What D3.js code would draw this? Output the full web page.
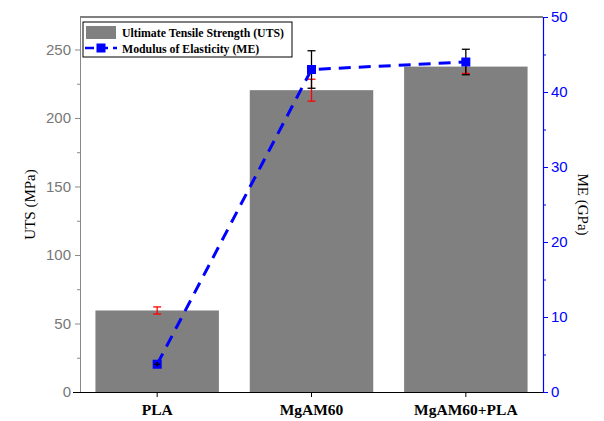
<!DOCTYPE html>
<html>
<head>
<meta charset="utf-8">
<script src="https://cdn.jsdelivr.net/npm/d3@7"></script>
<style>
  body { margin: 0; background: #fff; }
  svg text { font-family: "Liberation Sans", Arial, sans-serif; }
</style>
</head>
<body>
<div id="chart"></div>
<script>
// data
const categories = ["PLA", "MgAM60", "MgAM60+PLA"];
const utsValues = [59.5, 220.3, 237.5];
const utsErrors = [2.6, 8, 5];
const meValues = [3.7, 43.0, 44.0];
const meErrors = [0.3, 2.5, 1.7];
const utsTicks = [0, 50, 100, 150, 200, 250];
const meTicks = [0, 10, 20, 30, 40, 50];

const margin = { top: 17, right: 61, bottom: 29, left: 80 };
const width = 604 - margin.left - margin.right;
const height = 421 - margin.top - margin.bottom;
const serif = "'Liberation Serif', 'DejaVu Serif', serif";

const svg = d3.select("#chart").append("svg")
    .attr("width", 604)
    .attr("height", 421)
    .append("g")
    .attr("transform", `translate(${margin.left},${margin.top})`);

const x = d3.scaleBand().domain(categories).range([0, width]).paddingInner(0.2).paddingOuter(0.1);
const yL = d3.scaleLinear().domain([0, 273.7]).range([height, 0]);
const yR = d3.scaleLinear().domain([0, 50]).range([height, 0]);

// bars
svg.selectAll("rect.bar")
    .data(utsValues)
    .enter().append("rect")
    .attr("class", "bar")
    .attr("x", (d, i) => x(categories[i]))
    .attr("width", x.bandwidth())
    .attr("y", d => yL(d))
    .attr("height", d => height - yL(d))
    .attr("fill", "#808080");

// UTS error bars (red)
const cx = i => x(categories[i]) + x.bandwidth() / 2;
utsValues.forEach((d, i) => {
    const g = svg.append("g").attr("stroke", "#f00").attr("stroke-width", 1.3);
    g.append("line").attr("x1", cx(i)).attr("x2", cx(i)).attr("y1", yL(d - utsErrors[i])).attr("y2", yL(d + utsErrors[i]));
    g.append("line").attr("x1", cx(i) - 4).attr("x2", cx(i) + 4).attr("y1", yL(d - utsErrors[i])).attr("y2", yL(d - utsErrors[i]));
    g.append("line").attr("x1", cx(i) - 4).attr("x2", cx(i) + 4).attr("y1", yL(d + utsErrors[i])).attr("y2", yL(d + utsErrors[i]));
});

// ME line
const line = d3.line().x((d, i) => cx(i)).y(d => yR(d));
svg.append("path")
    .datum(meValues)
    .attr("fill", "none")
    .attr("stroke", "#0000ff")
    .attr("stroke-width", 3)
    .attr("stroke-dasharray", "12,8")
    .attr("d", line);

// ME error bars (black)
meValues.forEach((d, i) => {
    const g = svg.append("g").attr("stroke", "#000").attr("stroke-width", 1.3);
    g.append("line").attr("x1", cx(i)).attr("x2", cx(i)).attr("y1", yR(d - meErrors[i])).attr("y2", yR(d + meErrors[i]));
    g.append("line").attr("x1", cx(i) - 4).attr("x2", cx(i) + 4).attr("y1", yR(d - meErrors[i])).attr("y2", yR(d - meErrors[i]));
    g.append("line").attr("x1", cx(i) - 4).attr("x2", cx(i) + 4).attr("y1", yR(d + meErrors[i])).attr("y2", yR(d + meErrors[i]));
});

svg.selectAll("rect.pt")
    .data(meValues)
    .enter().append("rect")
    .attr("class", "pt")
    .attr("x", (d, i) => cx(i) - 4.5)
    .attr("y", d => yR(d) - 4.5)
    .attr("width", 9)
    .attr("height", 9)
    .attr("fill", "#0000ff");

// PLA tiny cross drawn over its square
svg.append("line").attr("x1", cx(0)).attr("x2", cx(0))
    .attr("y1", yR(meValues[0] - meErrors[0])).attr("y2", yR(meValues[0] + meErrors[0]))
    .attr("stroke", "#000").attr("stroke-width", 1.3);
svg.append("line").attr("x1", cx(0) - 3).attr("x2", cx(0) + 3)
    .attr("y1", yR(meValues[0])).attr("y2", yR(meValues[0]))
    .attr("stroke", "#000").attr("stroke-width", 1.3);

// top frame
svg.append("line").attr("x1", 0).attr("x2", width).attr("y1", 0).attr("y2", 0)
    .attr("stroke", "#000").attr("stroke-width", 1);

// left axis (gray)
const axL = svg.append("g")
    .call(d3.axisLeft(yL).tickValues(utsTicks).tickSize(5).tickSizeOuter(0));
axL.select(".domain").attr("stroke", "#888");
axL.selectAll(".tick line").attr("stroke", "#888");
axL.selectAll(".tick text").attr("fill", "#777").attr("font-size", 15).attr("x", -9);
const axLm = svg.append("g")
    .call(d3.axisLeft(yL).tickValues([25, 75, 125, 175, 225]).tickSize(3).tickFormat(""));
axLm.select(".domain").remove();
axLm.selectAll(".tick line").attr("stroke", "#888");

// right axis (blue)
const axR = svg.append("g").attr("transform", `translate(${width},0)`)
    .call(d3.axisRight(yR).tickValues(meTicks).tickSize(5).tickSizeOuter(0));
axR.select(".domain").attr("stroke", "#0000ff").attr("stroke-width", 1.2);
axR.selectAll(".tick line").attr("stroke", "#0000ff");
axR.selectAll(".tick text").attr("fill", "#0000ff").attr("font-size", 15).attr("x", 8);
const axRm = svg.append("g").attr("transform", `translate(${width},0)`)
    .call(d3.axisRight(yR).tickValues([5, 15, 25, 35, 45]).tickSize(3).tickFormat(""));
axRm.select(".domain").remove();
axRm.selectAll(".tick line").attr("stroke", "#0000ff");

// bottom axis
const axB = svg.append("g").attr("transform", `translate(0,${height})`)
    .call(d3.axisBottom(x).tickSize(5).tickSizeOuter(0));
axB.select(".domain").attr("d", `M-7,0.5H${width}`).attr("stroke", "#000");
axB.selectAll(".tick text")
    .style("font-family", serif)
    .attr("font-weight", "bold")
    .attr("font-size", 15.5)
    .attr("y", 12);

// axis titles
svg.append("text")
    .attr("transform", `translate(-45,${height / 2}) rotate(-90)`)
    .attr("text-anchor", "middle")
    .style("font-family", serif)
    .attr("font-size", 15)
    .text("UTS (MPa)");
svg.append("text")
    .attr("transform", `translate(${width + 35},${height / 2}) rotate(90)`)
    .attr("text-anchor", "middle")
    .style("font-family", serif)
    .attr("font-size", 15)
    .text("ME (GPa)");

// legend
const lg = svg.append("g").attr("transform", "translate(3,5)");
lg.append("rect").attr("width", 209).attr("height", 35)
    .attr("fill", "#fff").attr("stroke", "#000").attr("stroke-width", 1);
lg.append("rect").attr("x", 3).attr("y", 4).attr("width", 30).attr("height", 13).attr("fill", "#808080");
lg.append("line").attr("x1", 2).attr("x2", 34).attr("y1", 26).attr("y2", 26)
    .attr("stroke", "#0000ff").attr("stroke-width", 2.5).attr("stroke-dasharray", "9,5");
lg.append("rect").attr("x", 13.5).attr("y", 21.5).attr("width", 9).attr("height", 9).attr("fill", "#0000ff");
lg.selectAll("text.lt")
    .data(["Ultimate Tensile Strength (UTS)", "Modulus of Elasticity (ME)"])
    .enter().append("text")
    .attr("class", "lt")
    .attr("x", 39)
    .attr("y", (d, i) => 15 + i * 15.5)
    .style("font-family", serif)
    .attr("font-weight", "bold")
    .attr("font-size", 11.8)
    .text(d => d);
</script>
</body>
</html>
